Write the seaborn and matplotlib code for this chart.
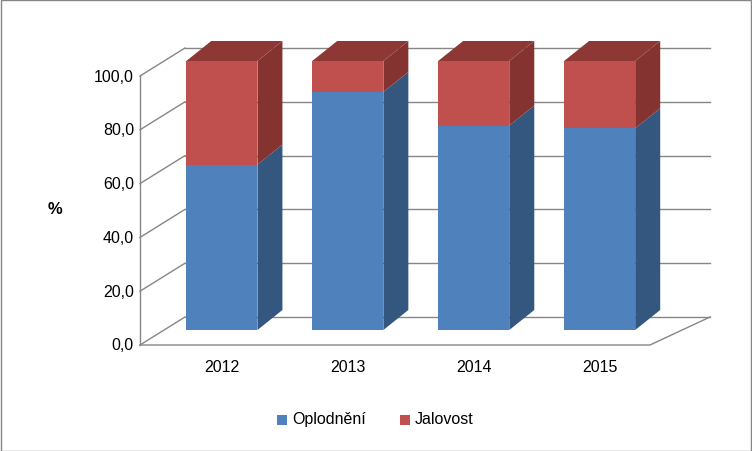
import matplotlib
matplotlib.use("Agg")
import matplotlib.pyplot as plt
import matplotlib.transforms as mtransforms
from matplotlib.patches import Polygon, Rectangle
import seaborn as sns
import pandas as pd
import numpy as np

years = ["2012", "2013", "2014", "2015"]
oplodneni = [61.5, 88.5, 76.0, 75.0]
jalovost = [38.5, 11.5, 24.0, 25.0]
yticks = [0, 20, 40, 60, 80, 100]

plt.rcParams["font.family"] = "Liberation Sans"
fig = plt.figure(figsize=(7.52, 4.52), dpi=100)
W, H = 752, 452
ax = fig.add_axes([140 / W, 121 / H, 510 / W, 269 / H])
ax.set_xlim(-0.65, 3.4)
ax.set_ylim(0, 100)
ax.axis("off")

def line(xs_, ys_):
    l = plt.Line2D(xs_, ys_, color="#868686", lw=1, transform=None, zorder=1, clip_on=False)
    ax.add_artist(l)

front = mtransforms.offset_copy(ax.transData, fig=fig, x=0, y=-15, units="dots")
for v in yticks:
    xf, yf = front.transform((-0.65, v))
    line([xf, xf + 45], [yf, yf + 28])
    line([xf + 45, 710], [yf + 28, yf + 28])
    ax.text(-0.65, v, f"{v:.1f}".replace(".", ","), transform=mtransforms.offset_copy(front, fig=fig, x=-6, y=0, units="dots"),
            ha="right", va="center", fontsize=11.5)
x0, y0 = front.transform((-0.65, 0))
x1, _ = front.transform((3.4, 0))
line([x0, x1, 710], [y0, y0, y0 + 28])
x0t, y0t = front.transform((-0.65, 100))
line([x0, x0t], [y0, y0t])

df = pd.DataFrame({"year": years, "Oplodnění": oplodneni, "Jalovost": jalovost})
xs = np.arange(len(years))
bw = 0.565
DX, DY = 25, 20
segs = [("Oplodnění", "#4F81BD", "#34577F", "#4472A8"), ("Jalovost", "#C0504D", "#843331", "#8E3836")]
bottom = np.zeros(len(years))
for k, (name, fc, sc, tc) in enumerate(segs):
    vals = df[name].values
    sns.barplot(x=xs, y=vals, bottom=bottom, color=fc, width=bw, ax=ax, native_scale=True,
                saturation=1, linewidth=0, zorder=3)
    for i, (b, v) in enumerate(zip(bottom, vals)):
        (ax_l, by), (ax_r, ty) = ax.transData.transform([(i - bw / 2, b), (i + bw / 2, b + v)])
        side = Polygon([(ax_r, by), (ax_r + DX, by + DY), (ax_r + DX, ty + DY), (ax_r, ty)],
                       closed=True, facecolor=sc, edgecolor="none", transform=None, zorder=2 + k * 0.1, clip_on=False)
        ax.add_artist(side)
        if k == len(segs) - 1:
            top = Polygon([(ax_l, ty), (ax_r, ty), (ax_r + DX, ty + DY), (ax_l + DX, ty + DY)],
                          closed=True, facecolor=tc, edgecolor="none", transform=None, zorder=2.5, clip_on=False)
            ax.add_artist(top)
    bottom = bottom + vals
ax.set_xlim(-0.65, 3.4)
ax.set_ylim(0, 100)

for i, y in enumerate(years):
    ax.text(i, 0, y, transform=mtransforms.offset_copy(ax.transData, fig=fig, x=0, y=-37, units="dots"),
            ha="center", va="center", fontsize=11.5)

fig.text(55 / W, 1 - 210 / H, "%", ha="center", va="center", fontsize=12, fontweight="bold")

for lx, name, c in [(277, "Oplodnění", "#4F81BD"), (400, "Jalovost", "#C0504D")]:
    fig.add_artist(Rectangle((lx, H - 426), 10, 10, facecolor=c, transform=None))
    fig.text((lx + 15) / W, 1 - 420 / H, name, ha="left", va="center", fontsize=11.5)

fig.add_artist(Rectangle((0.5, 0.5), W - 1.5, H - 1.5, fill=False, edgecolor="#868686", lw=1, transform=None))
fig.savefig("out.png", dpi=100)
